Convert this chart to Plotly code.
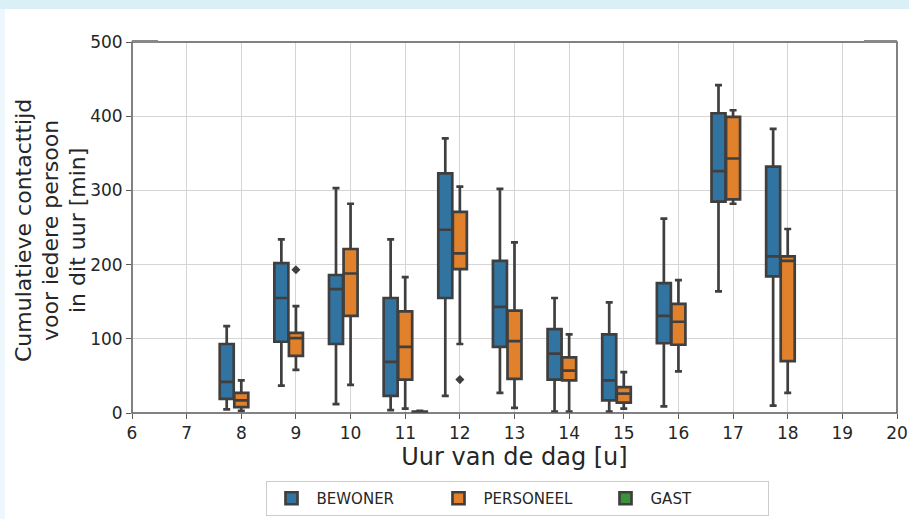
import plotly.graph_objects as go

# ---------------- data ----------------
hours = [8, 9, 10, 11, 12, 13, 14, 15, 16, 17, 18]

bew_low = [5, 37, 12, 4, 23, 27, 2, 2, 9, 164, 10]
bew_q1 = [19, 96, 93, 23, 155, 89, 45, 17, 94, 285, 184]
bew_med = [42, 155, 167, 69, 247, 143, 80, 44, 131, 326, 211]
bew_q3 = [93, 202, 186, 155, 323, 205, 113, 106, 175, 404, 332]
bew_up = [117, 234, 303, 234, 370, 302, 155, 149, 262, 442, 383]

per_low = [3, 58, 38, 6, 93, 7, 2, 6, 56, 282, 27]
per_q1 = [8, 77, 131, 45, 194, 46, 44, 14, 92, 288, 70]
per_med = [17, 101, 188, 89, 215, 97, 57, 26, 123, 343, 205]
per_q3 = [27, 108, 221, 137, 271, 138, 75, 35, 147, 399, 211]
per_up = [44, 144, 282, 183, 305, 230, 106, 55, 179, 408, 248]
per_out = [[], [193], [], [], [45], [], [], [], [], [], []]

gast_hours = [11]
gast_low = [0]
gast_q1 = [0]
gast_med = [1]
gast_q3 = [2]
gast_up = [3]

series_names = ["BEWONER", "PERSONEEL", "GAST"]
colors = ["#3274a1", "#e1812c", "#3a923a"]

y_title_lines = ["Cumulatieve contacttijd", "voor iedere persoon", "in dit uur [min]"]
x_title = "Uur van de dag [u]"

# ---------------- layout constants ----------------
W, H = 909, 519
ML, MR, MT, MB = 132, 12, 42, 106
PW = W - ML - MR
PH = H - MT - MB
LINE = "#3f3f3f"
FONT = "DejaVu Sans"


def px_to_paper_x(px):
    return (px - ML) / PW


def px_to_paper_y(py):
    return (H - MB - py) / PH


fig = go.Figure()

common = dict(line=dict(color=LINE, width=2.7), whiskerwidth=0.5, boxpoints=False)

fig.add_trace(go.Box(name=series_names[0], x=hours, q1=bew_q1, median=bew_med,
                     q3=bew_q3, lowerfence=bew_low, upperfence=bew_up,
                     fillcolor=colors[0], **common))
fig.add_trace(go.Box(name=series_names[1], x=hours, q1=per_q1, median=per_med,
                     q3=per_q3, lowerfence=per_low, upperfence=per_up,
                     fillcolor=colors[1], **common))
fig.add_trace(go.Box(name=series_names[2], x=gast_hours, q1=gast_q1, median=gast_med,
                     q3=gast_q3, lowerfence=gast_low, upperfence=gast_up,
                     fillcolor=colors[2], **common))

# outliers of PERSONEEL (middle group -> centred on the hour)
out_x = [h for h, vals in zip(hours, per_out) for _ in vals]
out_y = [v for vals in per_out for v in vals]
fig.add_trace(go.Scatter(x=out_x, y=out_y, mode="markers", showlegend=False,
                         marker=dict(symbol="diamond", color=LINE, size=7),
                         hoverinfo="skip"))

shapes = [
    # page background strips
    dict(type="rect", xref="paper", yref="paper", layer="below",
         x0=px_to_paper_x(0), x1=px_to_paper_x(W), y0=px_to_paper_y(9), y1=px_to_paper_y(0),
         fillcolor="#daeff6", line=dict(width=0)),
    dict(type="rect", xref="paper", yref="paper", layer="below",
         x0=px_to_paper_x(0), x1=px_to_paper_x(5), y0=px_to_paper_y(H), y1=px_to_paper_y(9),
         fillcolor="#eef7fb", line=dict(width=0)),
    # frame
    dict(type="rect", xref="paper", yref="paper", x0=0, x1=1, y0=0, y1=1,
         line=dict(color="#5a5a5a", width=1.5)),
    # odd top segments
    dict(type="line", xref="paper", yref="paper", x0=0, x1=px_to_paper_x(158), y0=1.002, y1=1.002,
         line=dict(color="#8a8a8a", width=2.5)),
    dict(type="line", xref="paper", yref="paper", x0=px_to_paper_x(864), x1=1, y0=1.002, y1=1.002,
         line=dict(color="#8a8a8a", width=2.5)),
]

annotations = []
for xpx, txt in zip([23, 50, 77], y_title_lines):
    annotations.append(dict(text=txt, xref="paper", yref="paper",
                            x=px_to_paper_x(xpx), y=px_to_paper_y(231),
                            xanchor="center", yanchor="middle", textangle=-90,
                            showarrow=False, font=dict(size=22, family=FONT, color="#262626")))

fig.update_layout(
    width=W, height=H,
    margin=dict(l=ML, r=MR, t=MT, b=MB, autoexpand=False),
    paper_bgcolor="white", plot_bgcolor="white",
    font=dict(family=FONT, color="#262626", size=17),
    boxmode="group", boxgap=0.2, boxgroupgap=0.04,
    shapes=shapes,
    annotations=annotations,
    showlegend=True,
    legend=dict(orientation="h", xanchor="center", x=px_to_paper_x(517),
                yanchor="bottom", y=px_to_paper_y(516),
                bordercolor="#cccccc", borderwidth=1, bgcolor="white",
                font=dict(size=15, family=FONT), itemwidth=40,
                entrywidth=112, entrywidthmode="pixels", traceorder="normal"),
)

fig.update_xaxes(range=[6, 20], dtick=1, tick0=6, showgrid=True, gridcolor="#d5d5d5",
                 gridwidth=1, zeroline=False, ticks="outside", ticklen=5, tickcolor="#5a5a5a",
                 tickfont=dict(size=17), showline=False,
                 title=dict(text=x_title, font=dict(size=24), standoff=2))
fig.update_yaxes(range=[0, 500], dtick=100, showgrid=True, gridcolor="#d5d5d5",
                 gridwidth=1, zeroline=False, ticks="outside", ticklen=5, tickcolor="#5a5a5a",
                 tickfont=dict(size=17), showline=False)

fig.write_html("out.html")
